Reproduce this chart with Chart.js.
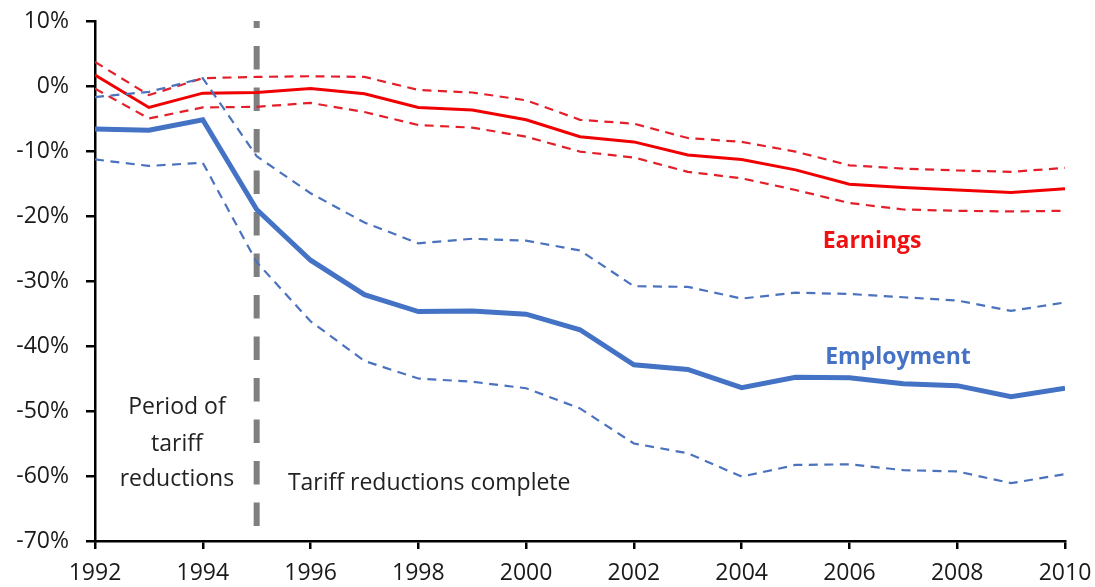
<!DOCTYPE html>
<html>
<head>
<meta charset="utf-8">
<script src="https://cdn.jsdelivr.net/npm/chart.js@4/dist/chart.umd.min.js"></script>
<style>
  html, body { margin: 0; padding: 0; background: #fff; }
  #wrap { width: 1095px; height: 587px; position: relative; }
</style>
</head>
<body>
<div id="wrap"><canvas id="TariffChart"></canvas></div>
<script>
// years on the x axis
const years = [1992, 1993, 1994, 1995, 1996, 1997, 1998, 1999, 2000, 2001,
               2002, 2003, 2004, 2005, 2006, 2007, 2008, 2009, 2010];

// employment effect (%) with its confidence band
const employment      = [-6.6, -6.8, -5.2, -19.0, -26.8, -32.1, -34.7, -34.6, -35.1, -37.5,
                         -42.9, -43.6, -46.4, -44.8, -44.9, -45.8, -46.1, -47.8, -46.5];
const employmentUpper = [-1.7, -0.9, 1.2, -10.8, -16.5, -21.0, -24.2, -23.5, -23.8, -25.3,
                         -30.8, -30.9, -32.7, -31.8, -32.0, -32.5, -33.0, -34.6, -33.3];
const employmentLower = [-11.3, -12.3, -11.8, -27.1, -36.2, -42.3, -45.0, -45.5, -46.5, -49.6,
                         -55.0, -56.5, -60.1, -58.3, -58.2, -59.1, -59.3, -61.1, -59.7];

// earnings effect (%) with its confidence band
const earnings      = [1.7, -3.3, -1.1, -1.0, -0.4, -1.2, -3.3, -3.7, -5.2, -7.8,
                       -8.6, -10.6, -11.3, -12.9, -15.1, -15.6, -16.0, -16.4, -15.8];
const earningsUpper = [3.7, -1.4, 1.2, 1.4, 1.5, 1.4, -0.6, -1.0, -2.2, -5.2,
                       -5.8, -8.0, -8.6, -10.1, -12.2, -12.7, -13.0, -13.2, -12.6];
const earningsLower = [-0.4, -5.0, -3.3, -3.2, -2.6, -4.0, -6.0, -6.4, -7.8, -10.1,
                       -11.0, -13.2, -14.2, -16.0, -18.0, -19.0, -19.2, -19.3, -19.2];

// end of tariff reductions
const cutoffYear = 1995;
const cutoffRange = [10, -70];

// axis ticks
const yMin = -70, yMax = 10, yStep = 10;
const xMin = 1992, xMax = 2010, xStep = 2;

// text notes: [text, year, value, colour, bold, align]
const notes = [
    ['Earnings', 2006.42, -23.9, '#ee1111', true, 'center'],
    ['Employment', 2006.9, -41.7, '#4472c4', true, 'center'],
    ['Period of', 1993.52, -49.5, '#222222', false, 'center'],
    ['tariff', 1993.52, -55.1, '#222222', false, 'center'],
    ['reductions', 1993.52, -60.5, '#222222', false, 'center'],
    ['Tariff reductions complete', 1995.58, -61.1, '#222222', false, 'left']
];

const FONT = "'Open Sans', 'Noto Sans', sans-serif";

const notesPlugin = {
    id: 'notes',
    afterDatasetsDraw(chart) {
        const ctx = chart.ctx;
        const xs = chart.scales.x, ys = chart.scales.y;
        ctx.save();
        ctx.textBaseline = 'middle';
        notes.forEach(n => {
            ctx.font = (n[4] ? 'bold ' : '') + '23px ' + FONT;
            ctx.fillStyle = n[3];
            ctx.textAlign = n[5];
            ctx.fillText(n[0], xs.getPixelForValue(n[1]), ys.getPixelForValue(n[2]));
        });
        ctx.restore();
    }
};

// keep the plot box fixed, no label overflow padding
function noOverflow(s) {
    s.paddingTop = 0;
    s.paddingBottom = 0;
    s.paddingLeft = 0;
    s.paddingRight = 0;
}

function band(data, color) {
    return {
        data: data,
        borderColor: color,
        borderWidth: 2.2,
        borderDash: [9, 6.5],
        pointRadius: 0,
        tension: 0,
        fill: false
    };
}

function initiateTariffChart() {
    const grapharea = document.getElementById('TariffChart').getContext('2d');

    let tariffChart = new Chart(grapharea, {
        type: 'line',
        data: {
            labels: years,
            datasets: [
                band(employmentUpper, '#4a72bd'),
                band(employmentLower, '#4a72bd'),
                band(earningsUpper, '#e3202a'),
                band(earningsLower, '#e3202a'),
                {
                    data: employment,
                    borderColor: '#4472c4',
                    borderWidth: 5,
                    pointRadius: 0,
                    tension: 0
                },
                {
                    data: earnings,
                    borderColor: '#f00000',
                    borderWidth: 3,
                    pointRadius: 0,
                    tension: 0
                },
                {
                    data: cutoffRange.map(v => ({x: cutoffYear, y: v})),
                    borderColor: '#7f7f7f',
                    borderWidth: 6,
                    borderDash: [23.5, 18],
                    borderDashOffset: 16.5,
                    pointRadius: 0
                }
            ]
        },
        options: {
            responsive: true,
            maintainAspectRatio: false,
            animation: false,
            layout: {
                padding: { top: 21, right: 30, bottom: 0, left: 0 }
            },
            plugins: {
                legend: { display: false },
                tooltip: { enabled: false }
            },
            scales: {
                x: {
                    type: 'linear',
                    min: xMin,
                    max: xMax,
                    afterFit: s => { s.height = 46; noOverflow(s); },
                    grid: {
                        drawOnChartArea: false,
                        tickLength: 8,
                        tickColor: '#000',
                        lineWidth: 2.5
                    },
                    border: { color: '#000', width: 2.5 },
                    ticks: {
                        stepSize: xStep,
                        maxRotation: 0,
                        padding: 11,
                        color: '#1a1a1a',
                        font: { family: FONT, size: 23 },
                        callback: v => String(v)
                    }
                },
                y: {
                    min: yMin,
                    max: yMax,
                    afterFit: s => { s.width = 95; noOverflow(s); },
                    grid: {
                        drawOnChartArea: false,
                        tickLength: 9,
                        tickColor: '#000',
                        lineWidth: 2.5
                    },
                    border: { color: '#000', width: 2.5 },
                    ticks: {
                        stepSize: yStep,
                        padding: 17,
                        color: '#1a1a1a',
                        font: { family: FONT, size: 23 },
                        callback: v => v + '%'
                    }
                }
            }
        },
        plugins: [notesPlugin]
    });
    return tariffChart
}

window.initiateTariffChart = initiateTariffChart;
initiateTariffChart();
</script>
</body>
</html>
